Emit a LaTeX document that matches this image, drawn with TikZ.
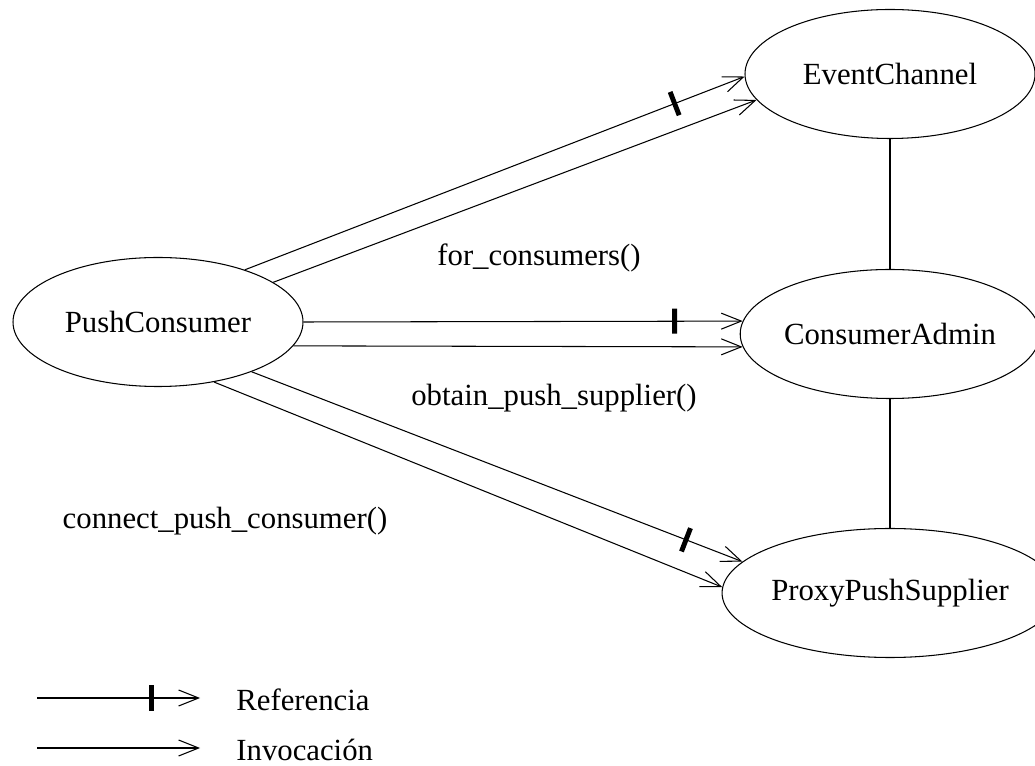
\documentclass[tikz,border=0pt]{standalone}
\usepackage{fontspec}
\setmainfont{Liberation Serif}
\usetikzlibrary{arrows.meta,shapes.geometric}

\begin{document}
\begin{tikzpicture}[
	font = \fontsize{17.5}{21}\selectfont,
	line width = 0.6pt,
	>={Straight Barb[length=0.4cm, width=0.32cm]},
	obj/.style = {draw, ellipse, inner sep = 0pt, minimum width = 5.8cm, minimum height = 2.58cm},
	refmark/.style = {sloped, fill, inner sep = 0pt, minimum width = 2.8pt, minimum height = 0.5cm}
]
	\useasboundingbox (0, 0) rectangle (20.7, 15.3);
	\node[obj] (pc) at (3.16, 8.86){PushConsumer};
	\node[obj] (ec) at (17.8, 13.82){EventChannel};
	\node[obj] (ca) at (17.8, 8.62){ConsumerAdmin};
	\node[obj] (pps) at (17.8, 3.44){ProxyPushSupplier};
	\draw (ec) -- (ca);
	\draw (ca) -- (pps);
	% llamadas
	\draw[->] (pc.31.8) -- (ec.181.6) node[refmark, pos = 0.86]{};
	\draw[->] (pc.19) -- (ec.191.5);
	\draw[->] (pc.0) -- (ca.175.4) node[refmark, pos = 0.845]{};
	\draw[->] (pc.-10.2) -- (ca.185.4);
	\draw[->] (pc.-28.2) -- (pps.168.2) node[refmark, pos = 0.885]{};
	\draw[->] (pc.-47.8) -- (pps.178.8);
	\node (fc) at (10.78, 10.14){for\_consumers()};
	\node (ops) at (11.08, 7.34){obtain\_push\_supplier()};
	\node (cpc) at (4.5, 4.88){connect\_push\_consumer()};
	% leyenda
	\coordinate (ra) at (0.74, 1.34);
	\coordinate (rb) at (4.0, 1.34);
	\coordinate (ia) at (0.74, 0.34);
	\coordinate (ib) at (4.0, 0.34);
	\draw[->] (ra) -- (rb) node[refmark, pos = 0.7]{};
	\draw[->] (ia) -- (ib);
	\node[anchor = west] (ref) at (4.6, 1.30){Referencia};
	\node[anchor = west] (inv) at (4.6, 0.30){Invocación};
\end{tikzpicture}
\end{document}
